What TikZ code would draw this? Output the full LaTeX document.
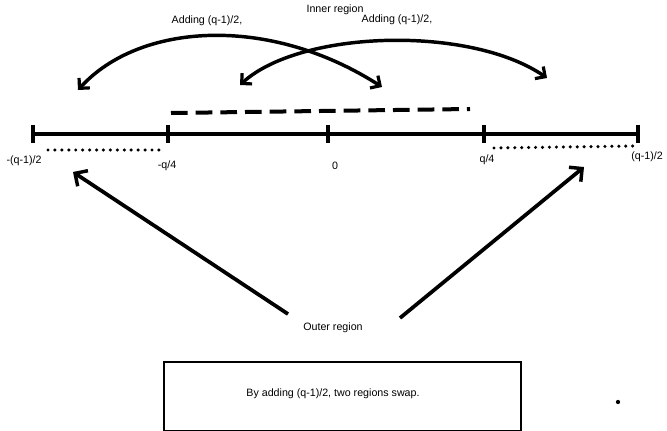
\documentclass[tikz,border=0pt]{standalone}
\usepackage{fontspec}
\setmainfont{Liberation Sans}
\usetikzlibrary{arrows.meta}
\begin{document}
\begin{tikzpicture}[x=0.75pt,y=-0.75pt,
  lbl/.style={inner sep=0pt,font=\fontsize{8}{9}\selectfont},
  axis/.style={line width=2.6pt},
  tick/.style={line width=2.6pt},
  swaparrow/.style={line width=2.6pt,{Straight Barb[length=5.5pt,width=11pt,line width=2.4pt]}-{Straight Barb[length=5.5pt,width=11pt,line width=2.4pt]}},
  bigarrow/.style={line width=2.8pt,-{Straight Barb[length=7pt,width=14pt,line width=2.6pt]}},
  dotline/.style={line width=2.6pt,line cap=round,dash pattern=on 0pt off 5.2pt},
  dashline/.style={line width=3pt,dash pattern=on 12.5pt off 6pt},
  framebox/.style={draw,line width=1.8pt}]
\useasboundingbox (0,0) rectangle (667,431);
% number line
\coordinate (L) at (33,134);
\coordinate (R) at (638,134);
\draw[axis] (L) -- (R);
\foreach \n/\x in {a/33,b/168,c/328,d/484,e/638}{
  \coordinate (t\n) at (\x,134);
  \draw[tick] (\x,125) -- (\x,143);
}
% labels
\node[lbl] (lmin) at (24,161) {-(q-1)/2};
\node[lbl] (lq4m) at (167,166) {-q/4};
\node[lbl] (lzero) at (335,166) {0};
\node[lbl] (lq4) at (487,160) {q/4};
\node[lbl] (lmax) at (647,157) {(q-1)/2};
% dotted regions
\coordinate (d1a) at (48,150); \coordinate (d1b) at (160,150);
\draw[dotline] (d1a) -- (d1b);
\coordinate (d2a) at (494,148); \coordinate (d2b) at (635,146);
\draw[dotline] (d2a) -- (d2b);
% dashed inner region
\coordinate (s1) at (171,113); \coordinate (s2) at (470,109);
\draw[dashline] (s1) -- (s2);
% texts on top
\node[lbl] (inner) at (335,10) {Inner region};
\node[lbl] (add1) at (207,21) {Adding (q-1)/2,};
\node[lbl] (add2) at (397,20) {Adding (q-1)/2,};
% swap arcs
\coordinate (a1s) at (78,90); \coordinate (a1e) at (382,87);
\draw[swaparrow] (a1s) .. controls (140,22) and (270,15) .. (a1e);
\coordinate (a2s) at (240,85); \coordinate (a2e) at (547,78);
\draw[swaparrow] (a2s) .. controls (300,30) and (470,25) .. (a2e);
% outer region
\node[lbl] (outer) at (333,328) {Outer region};
\coordinate (o1) at (288,314); \coordinate (o1t) at (73,172);
\coordinate (o2) at (400,318); \coordinate (o2t) at (584,167);
\draw[bigarrow] (o1) -- (o1t);
\draw[bigarrow] (o2) -- (o2t);
% box
\node[framebox,minimum width=357*0.75pt,minimum height=69*0.75pt,anchor=north west,inner sep=0pt] (box) at (163,361) {};
\node[lbl] (boxtext) at (333,394) {By adding (q-1)/2, two regions swap.};
% dot
\fill (618,402) circle (1.6pt);
\end{tikzpicture}
\end{document}
